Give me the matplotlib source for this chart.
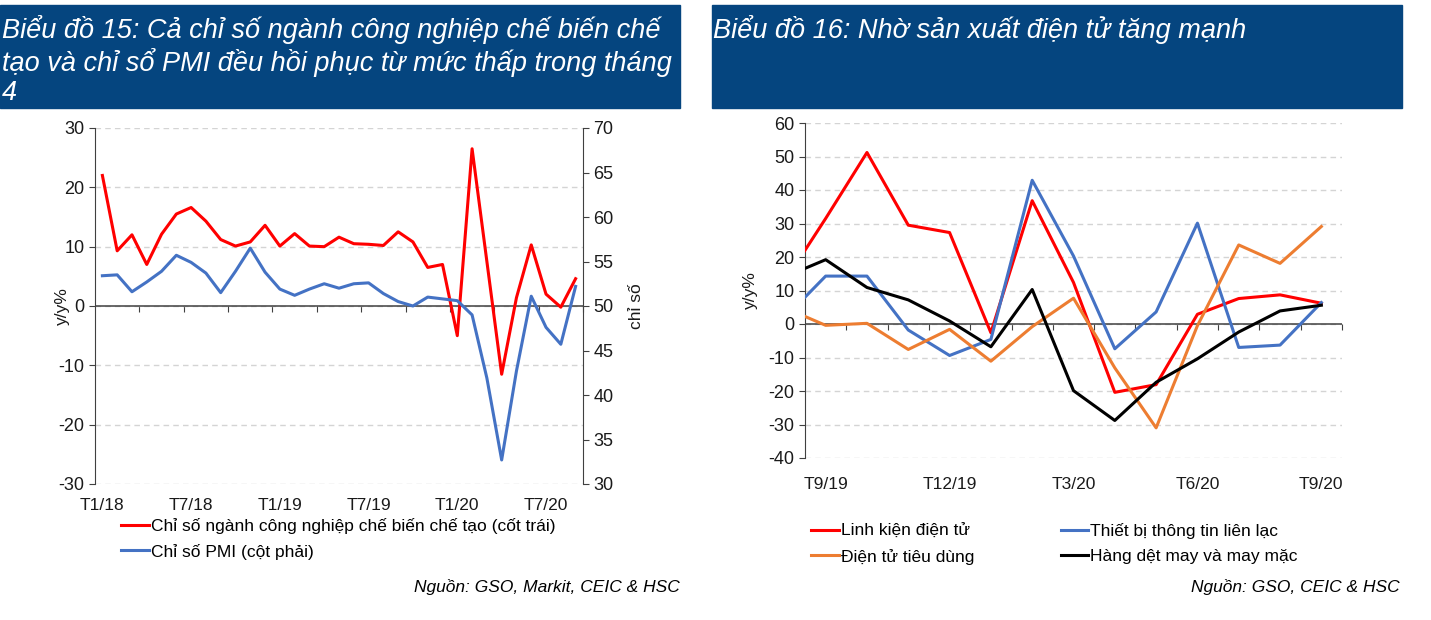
import numpy as np
import matplotlib
matplotlib.use('Agg')
import matplotlib.pyplot as plt
from matplotlib.patches import Rectangle
from matplotlib.ticker import NullFormatter

plt.rcParams['font.family'] = ['Liberation Sans', 'DejaVu Sans']
plt.rcParams['axes.unicode_minus'] = False

# Chart 15 data: T1/18 .. T9/20
months15 = ['T%d/%d' % (m, y) for y in (18, 19, 20) for m in range(1, 13)][:33]
iip = [22.0, 9.3, 12.0, 7.0, 12.1, 15.5, 16.6, 14.3, 11.2, 10.1, 10.8, 13.6,
       10.1, 12.2, 10.1, 10.0, 11.6, 10.5, 10.4, 10.2, 12.5, 10.8, 6.5, 7.0,
       -5.0, 26.5, 7.5, -11.5, 1.4, 10.3, 2.0, -0.2, 4.6]
pmi = [53.4, 53.5, 51.6, 52.7, 53.9, 55.7, 54.9, 53.7, 51.5, 53.9, 56.5, 53.8,
       51.9, 51.2, 51.9, 52.5, 52.0, 52.5, 52.6, 51.4, 50.5, 50.0, 51.0, 50.8,
       50.6, 49.0, 41.9, 32.7, 42.7, 51.1, 47.6, 45.7, 52.2]

# Chart 16 data: T8/19 (hidden, only the clipped start is visible) .. T9/20
months16 = ['T8/19', 'T9/19', 'T10/19', 'T11/19', 'T12/19', 'T1/20', 'T2/20',
            'T3/20', 'T4/20', 'T5/20', 'T6/20', 'T7/20', 'T8/20', 'T9/20']
linh_kien = [12.5, 31.5, 51.2, 29.5, 27.3, -2.6, 36.8, 12.4, -20.4, -18.1, 2.9, 7.6, 8.7, 6.2]
thiet_bi = [1.7, 14.3, 14.3, -1.8, -9.4, -4.6, 42.9, 20.3, -7.4, 3.6, 30.1, -7.0, -6.3, 6.4]
tieu_dung = [4.9, -0.4, 0.2, -7.6, -1.6, -11.1, -0.8, 7.7, -13.1, -31.0, -0.5, 23.6, 18.1, 29.1]
det_may = [14.0, 19.2, 10.9, 7.2, 0.9, -6.8, 10.3, -19.9, -28.8, -17.4, -10.4, -2.4, 3.9, 5.6]

W, H = 1431, 620
fig = plt.figure(figsize=(W / 100, H / 100), dpi=100)

navy = '#05457f'
fig.patches.append(Rectangle((0, 1 - 108 / H), 680 / W, 103 / H,
                             transform=fig.transFigure, color=navy, zorder=0))
fig.patches.append(Rectangle((712 / W, 1 - 108 / H), 690 / W, 103 / H,
                             transform=fig.transFigure, color=navy, zorder=0))
fig.text(2 / W, 1 - 15 / H,
         'Biểu đồ 15: Cả chỉ số ngành công nghiệp chế biến chế\n'
         'tạo và chỉ sổ PMI đều hồi phục từ mức thấp trong tháng\n4',
         color='white', style='italic', fontsize=19.5,
         va='top', ha='left', linespacing=1.17)
fig.text(713 / W, 1 - 15 / H, 'Biểu đồ 16: Nhờ sản xuất điện tử tăng mạnh',
         color='white', style='italic', fontsize=19.5, va='top', ha='left')

grid_kw = dict(color='#d4d4d4', linestyle=(0, (4, 3)), linewidth=1)
txt = '#1a1a1a'
axc = '#404040'


def style_axes(ax, zero_frac, boundary_ticks):
    for s in ('top', 'bottom', 'right'):
        ax.spines[s].set_visible(False)
    ax.spines['left'].set_color(axc)
    ax.tick_params(axis='y', direction='out', length=4, colors=axc,
                   labelcolor=txt, labelsize=13)
    ax.tick_params(axis='x', length=0, labelsize=12.5, labelcolor=txt)
    ax.yaxis.grid(True, **grid_kw)
    ax.set_axisbelow(True)
    ax.axhline(0, color=axc, lw=1.1, zorder=2)
    sec = ax.secondary_xaxis(zero_frac)
    sec.spines['bottom'].set_visible(False)
    sec.spines['top'].set_visible(False)
    sec.xaxis.set_ticks_position('bottom')
    sec.set_xticks(boundary_ticks)
    sec.xaxis.set_major_formatter(NullFormatter())
    sec.tick_params(axis='x', length=4, direction='out', colors=axc,
                    labelbottom=False, labeltop=False)


# ---- Chart 15
ax1 = fig.add_axes([95 / W, 1 - 484 / H, 488 / W, 356 / H])
x15 = np.arange(len(months15))
ax1.plot(x15, iip, color='#ff0000', lw=2.2, zorder=3,
         label='Chỉ số ngành công nghiệp chế biến chế tạo (cốt trái)')
ax1.set_xlim(-0.5, len(months15) - 0.5)
ax1.set_ylim(-30, 30)
ax1.set_yticks(range(-30, 31, 10))
ax1.set_xticks(x15[::6])
ax1.set_xticklabels(months15[::6])
style_axes(ax1, 0.5, np.arange(2.5, len(months15), 3))
ax1.tick_params(axis='x', pad=10)
ax1.set_ylabel('y/y%', fontsize=12.5, color=txt)
ax1.yaxis.set_label_coords(-0.052, 0.5)

ax1r = ax1.twinx()
ax1r.plot(x15, pmi, color='#4472c4', lw=2.2, zorder=3, label='Chỉ số PMI (cột phải)')
ax1r.set_ylim(30, 70)
ax1r.set_yticks(range(30, 71, 5))
for s in ('top', 'bottom', 'left'):
    ax1r.spines[s].set_visible(False)
ax1r.spines['right'].set_color(axc)
ax1r.tick_params(axis='y', direction='out', length=4, colors=axc,
                 labelcolor=txt, labelsize=13)
ax1r.set_ylabel('chỉ số', fontsize=12.5, color=txt, labelpad=11)

h1, l1 = ax1.get_legend_handles_labels()
h2, l2 = ax1r.get_legend_handles_labels()
fig.legend(h1 + h2, l1 + l2, loc='upper left', bbox_to_anchor=(121 / W, 1 - 518 / H),
           frameon=False, fontsize=12.5, handlelength=1.6, handletextpad=0.1,
           labelspacing=0.55, borderaxespad=0, borderpad=0)
fig.text(680 / W, 1 - 587 / H, 'Nguồn: GSO, Markit, CEIC & HSC', style='italic',
         fontsize=12.5, ha='right', va='center', color='black')

# ---- Chart 16
ax2 = fig.add_axes([805 / W, 1 - 458 / H, 537 / W, 335 / H])
x16 = np.arange(len(months16))
ax2.plot(x16, linh_kien, color='#ff0000', lw=2.2, zorder=3, label='Linh kiện điện tử')
ax2.plot(x16, thiet_bi, color='#4472c4', lw=2.2, zorder=3, label='Thiết bị thông tin liên lạc')
ax2.plot(x16, tieu_dung, color='#ed7d31', lw=2.2, zorder=3, label='Điện tử tiêu dùng')
ax2.plot(x16, det_may, color='#000000', lw=2.2, zorder=3, label='Hàng dệt may và may mặc')
ax2.set_xlim(0.5, len(months16) - 0.5)
ax2.set_ylim(-40, 60)
ax2.set_yticks(range(-40, 61, 10))
ax2.set_xticks(x16[1::3])
ax2.set_xticklabels(months16[1::3])
style_axes(ax2, 0.4, np.arange(1.5, len(months16), 1))
ax2.tick_params(axis='x', pad=14)
ax2.set_ylabel('y/y%', fontsize=12.5, color=txt)
ax2.yaxis.set_label_coords(-0.0875, 0.5)

h, l = ax2.get_legend_handles_labels()
order = [0, 2, 1, 3]
fig.legend([h[i] for i in order], [l[i] for i in order], loc='upper left', ncol=2,
           bbox_to_anchor=(811 / W, 1 - 523 / H), frameon=False, fontsize=12.5,
           handlelength=1.6, handletextpad=0.1, labelspacing=0.55,
           columnspacing=5.0, borderaxespad=0, borderpad=0)
fig.text(1400 / W, 1 - 587 / H, 'Nguồn: GSO, CEIC & HSC', style='italic',
         fontsize=12.5, ha='right', va='center', color='black')

fig.savefig('out.png', dpi=100)
